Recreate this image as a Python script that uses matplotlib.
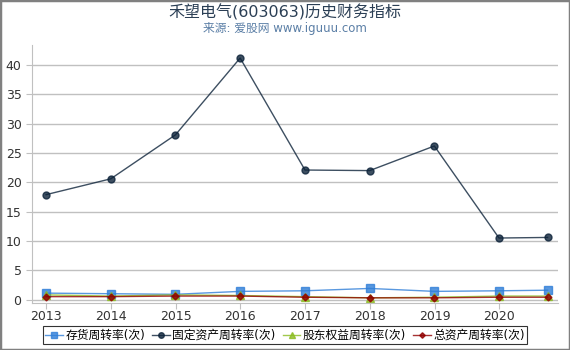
import datetime as dt
import matplotlib
matplotlib.use("Agg")
import matplotlib.pyplot as plt
import matplotlib.dates as mdates
from matplotlib.patches import Rectangle

plt.rcParams["font.family"] = ["DejaVu Sans", "Noto Sans CJK SC"]

# ---- data ----
dates = ["2012-12-31", "2013-12-31", "2014-12-31", "2015-12-31", "2016-12-31",
         "2017-12-31", "2018-12-31", "2019-12-31", "2020-09-30"]
inventory = [1.1, 1.0, 0.9, 1.4, 1.5, 1.9, 1.4, 1.5, 1.6]
fixed_assets = [17.9, 20.6, 28.1, 41.2, 22.1, 22.0, 26.2, 10.5, 10.6]
equity = [0.8, 0.6, 0.8, 0.7, 0.5, 0.3, 0.4, 0.6, 0.6]
total_assets = [0.5, 0.5, 0.6, 0.6, 0.4, 0.3, 0.3, 0.4, 0.4]
labels = ["存货周转率(次)", "固定资产周转率(次)", "股东权益周转率(次)", "总资产周转率(次)"]
yticks = [0, 5, 10, 15, 20, 25, 30, 35, 40]

x = [dt.datetime.strptime(d, "%Y-%m-%d") for d in dates]

# ---- figure ----
fig = plt.figure(figsize=(5.7, 3.5), dpi=100)
ax = fig.add_axes([0.056, 0.134, 0.923, 0.737])

series = [
    (inventory, "#2f7ed8", "s", 6),
    (fixed_assets, "#0d233a", "o", 5),
    (equity, "#8bbc21", "^", 6),
    (total_assets, "#910000", "D", 3.5),
]
for (vals, col, mk, ms), lab in zip(series, labels):
    ax.plot(x, vals, color=col, lw=1.0, alpha=0.8, marker=mk, markersize=ms,
            markerfacecolor=col, markeredgecolor=col, label=lab)

ax.set_ylim(-0.6, 43.4)
ax.set_xlim(dt.datetime(2012, 10, 12), dt.datetime(2020, 11, 28))
ax.set_yticks(yticks)
ax.xaxis.set_major_locator(mdates.YearLocator())
ax.xaxis.set_major_formatter(mdates.DateFormatter("%Y"))

ax.grid(axis="y", color="#c0c0c0", lw=1)
ax.set_axisbelow(True)
for s in ["top", "right"]:
    ax.spines[s].set_visible(False)
for s in ["left", "bottom"]:
    ax.spines[s].set_color("#c0c0c0")
ax.tick_params(colors="#c0c0c0", labelcolor="#333333", labelsize=9, length=4)
ax.tick_params(axis="x", pad=1)

# titles
fig.text(0.5, 0.965, "禾望电气(603063)历史财务指标", ha="center", va="center",
         fontsize=11.5, color="#2b3f55")
fig.text(0.5, 0.918, "来源: 爱股网 www.iguuu.com", ha="center", va="center",
         fontsize=8.5, color="#5b7fa6")

leg = fig.legend(loc="lower center", bbox_to_anchor=(0.5, 0.0), ncol=4,
                 fontsize=8.5, frameon=True, fancybox=False, handlelength=1.5,
                 handletextpad=0.2, columnspacing=0.6, borderpad=0.2,
                 markerscale=0.8)
leg.get_frame().set_edgecolor("black")
leg.get_frame().set_linewidth(0.8)

# figure border
fig.patches.append(Rectangle((0, 0), 1, 1, transform=fig.transFigure, fill=False,
                             edgecolor="#808080", lw=2.5))

fig.savefig("out.png", dpi=100)
